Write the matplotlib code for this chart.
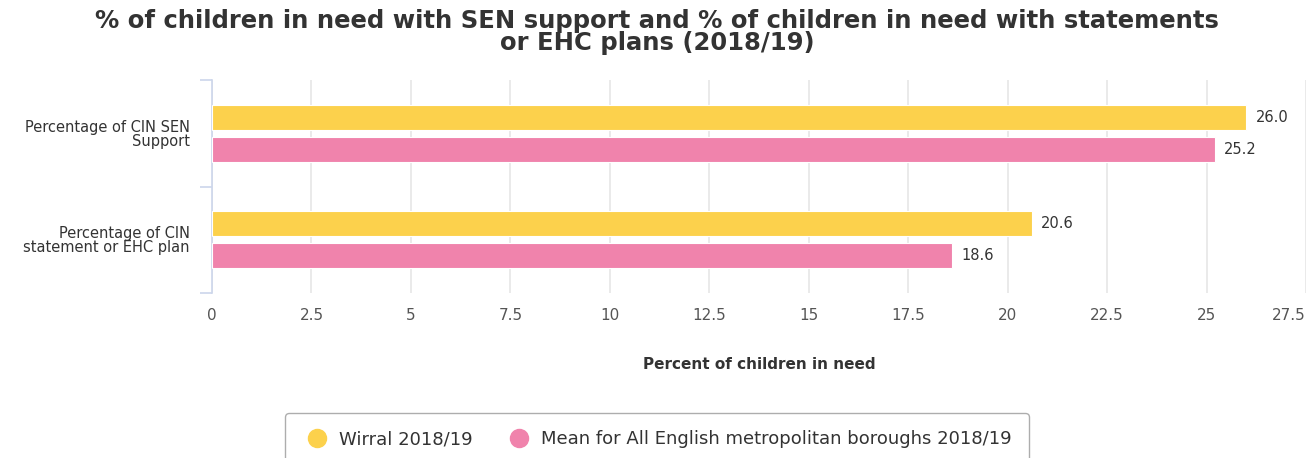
import matplotlib.pyplot as plt
import numpy as np

categories = ["Percentage of CIN SEN\nSupport", "Percentage of CIN\nstatement or EHC plan"]
wirral = [26.0, 20.6]
mean_met = [25.2, 18.6]
series_names = ["Wirral 2018/19", "Mean for All English metropolitan boroughs 2018/19"]
xticks = [0, 2.5, 5, 7.5, 10, 12.5, 15, 17.5, 20, 22.5, 25, 27.5]
xtick_labels = ["0", "2.5", "5", "7.5", "10", "12.5", "15", "17.5", "20", "22.5", "25", "27.5"]

yellow = "#fcd14c"
pink = "#f083ac"

fig = plt.figure(figsize=(13.14, 4.58), dpi=100)
ax = fig.add_axes([212 / 1314, 1 - 293 / 458, (1306 - 212) / 1314, (293 - 80) / 458])

y = np.arange(len(categories))
h = 0.235
off = 0.15
b1 = ax.barh(y - off, wirral, height=h, color=yellow, edgecolor="white", linewidth=0.8, zorder=3)
b2 = ax.barh(y + off, mean_met, height=h, color=pink, edgecolor="white", linewidth=0.8, zorder=3)

for bars, vals in ((b1, wirral), (b2, mean_met)):
    for bar, v in zip(bars, vals):
        ax.text(v + 0.24, bar.get_y() + bar.get_height() / 2, "%.1f" % v,
                va="center", ha="left", fontsize=10.5, color="#333333")

ax.set_xlim(0, 27.5)
ax.set_ylim(1.5, -0.5)
ax.set_xticks(xticks)
ax.set_xticklabels(xtick_labels, fontsize=11, color="#555555")
ax.get_xticklabels()[-1].set_ha("right")
ax.tick_params(axis="x", length=0, pad=11)
ax.grid(axis="x", color="#e6e6e6", linewidth=1.2, zorder=0)

ax.set_yticks(y)
ax.set_yticklabels(categories, fontsize=10.5, color="#333333", linespacing=0.9)
ax.set_yticks([-0.5, 0.5, 1.5], minor=True)
ax.tick_params(axis="y", which="major", length=0, pad=16)
ax.tick_params(axis="y", which="minor", length=9, color="#ccd6eb", width=1.2)

for s in ("top", "right", "bottom"):
    ax.spines[s].set_visible(False)
ax.spines["left"].set_color("#ccd6eb")
ax.spines["left"].set_linewidth(1.2)

ax.set_xlabel("Percent of children in need", fontsize=11, fontweight="bold", color="#333333", labelpad=24)

fig.text(0.5, 0.93, "% of children in need with SEN support and % of children in need with statements\nor EHC plans (2018/19)",
         ha="center", va="center", fontsize=17.5, fontweight="bold", color="#333333", linespacing=0.9)

handles = [plt.Line2D([], [], marker="o", linestyle="none", markersize=13, color=yellow),
           plt.Line2D([], [], marker="o", linestyle="none", markersize=13, color=pink)]
leg = fig.legend(handles, series_names, loc="upper center", bbox_to_anchor=(0.5, 1 - 413 / 458), ncol=2,
                 fontsize=13, frameon=True, fancybox=True, edgecolor="#999999", borderaxespad=0,
                 handletextpad=0.4, columnspacing=1.8, borderpad=0.95, handlelength=1.6)
for t in leg.get_texts():
    t.set_color("#333333")

fig.savefig("out.png", dpi=100)
